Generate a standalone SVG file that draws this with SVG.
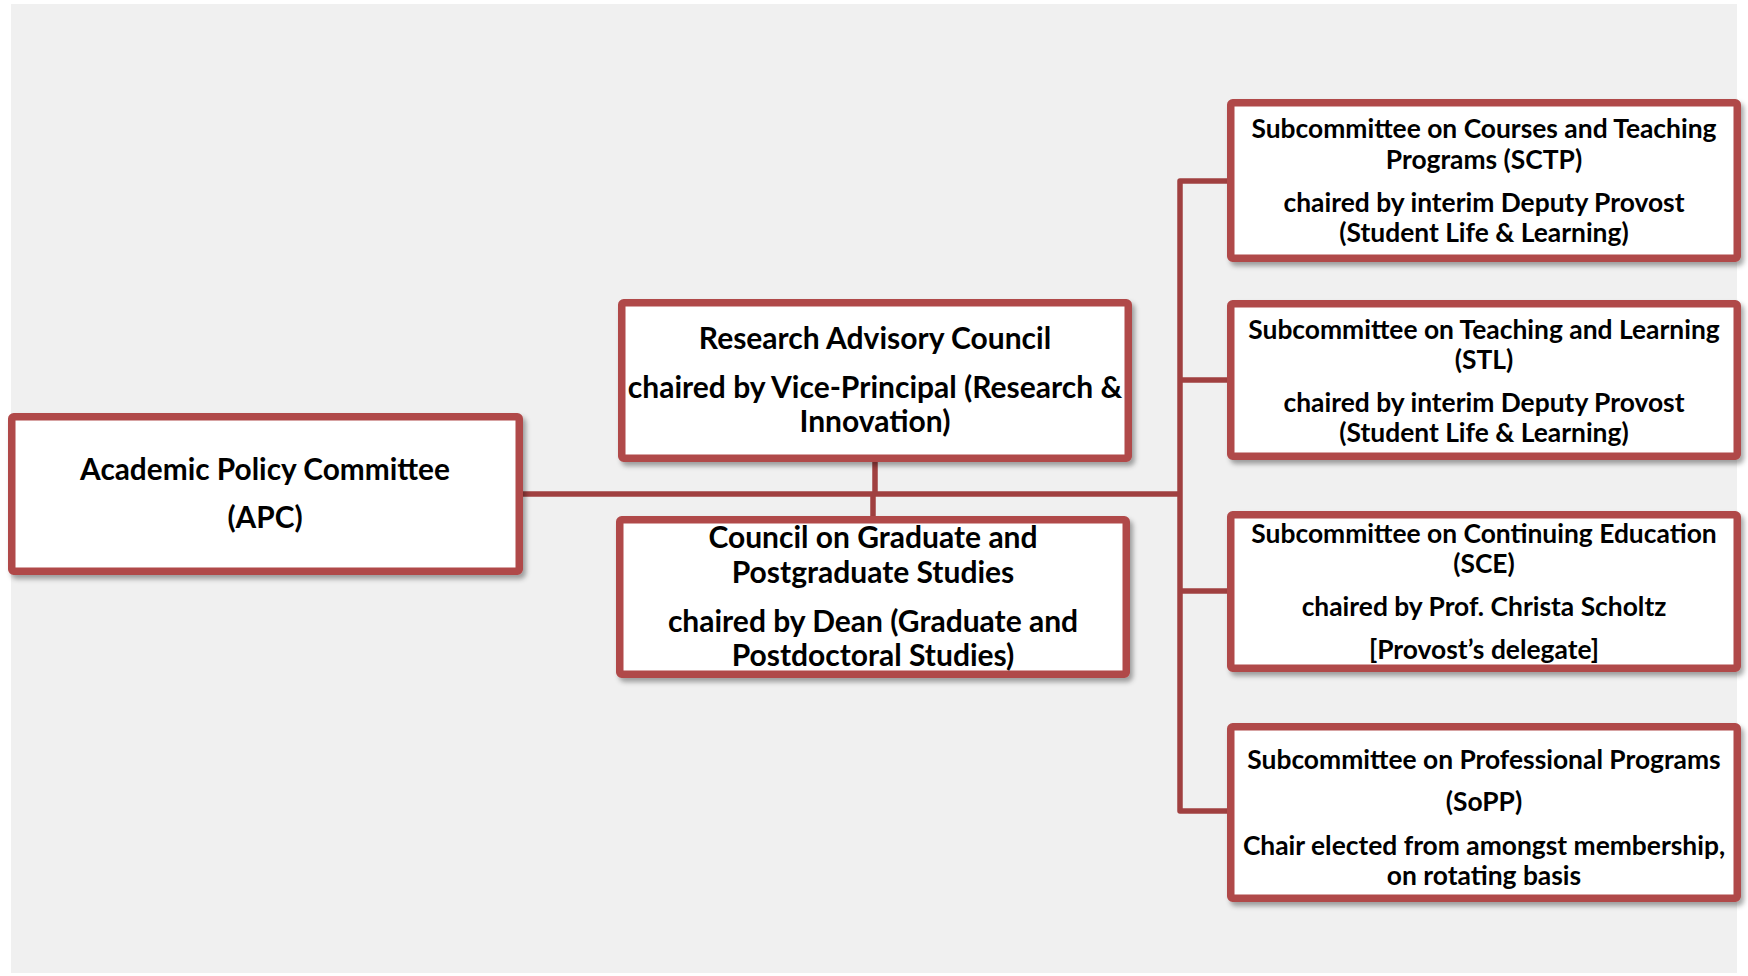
<svg xmlns="http://www.w3.org/2000/svg" width="1748" height="976" viewBox="0 0 1748 976">
<defs>
<filter id="sh" x="-5%" y="-5%" width="112%" height="120%">
<feDropShadow dx="3" dy="4" stdDeviation="2.5" flood-color="#000" flood-opacity="0.35"/>
</filter>
<style>
.box{fill:#ffffff;stroke:#b04848;stroke-width:7.5;filter:url(#sh)}
.ln{fill:none;stroke:#a04040;stroke-width:5.5;stroke-linejoin:round}
text{font-family:Lato,"Open Sans","Liberation Sans",sans-serif;font-weight:700;fill:#000;text-anchor:middle}
.t1{font-size:29.8px}
.t2{font-size:30px}
.t3{font-size:26.4px}
</style>
</defs>
<rect x="0" y="0" width="1748" height="976" fill="#ffffff"/>
<rect x="11" y="4" width="1726" height="969" fill="#f0f0f0"/>
<g id="connectors">
<path class="ln" d="M523 494 H1180"/>
<path class="ln" d="M875 462 V494"/>
<path class="ln" d="M873 494 V516"/>
<path class="ln" d="M1227 181 H1180 V811 H1227"/>
<path class="ln" d="M1180 380 H1227"/>
<path class="ln" d="M1180 591 H1227"/>
</g>
<g id="apc">
<rect class="box" x="11.75" y="416.75" width="507.5" height="154.5" rx="2"/>
<text class="t1" x="265" y="480">Academic Policy Committee</text>
<text class="t1" x="265" y="527.5">(APC)</text>
</g>
<g id="rac">
<rect class="box" x="621.75" y="302.75" width="506.5" height="155.5" rx="2"/>
<text class="t2" x="875" y="348.5">Research Advisory Council</text>
<text class="t2" x="875" y="397.5">chaired by Vice-Principal (Research &amp;</text>
<text class="t2" x="875" y="431.5">Innovation)</text>
</g>
<g id="cgps">
<rect class="box" x="619.75" y="519.75" width="506.5" height="154.5" rx="2"/>
<text class="t2" x="873" y="547.5">Council on Graduate and</text>
<text class="t2" x="873" y="582.5">Postgraduate Studies</text>
<text class="t2" x="873" y="631.5">chaired by Dean (Graduate and</text>
<text class="t2" x="873" y="665.5">Postdoctoral Studies)</text>
</g>
<g id="sctp">
<rect class="box" x="1230.75" y="102.75" width="506.5" height="155.5" rx="2"/>
<text class="t3" x="1484" y="137.5">Subcommittee on Courses and Teaching</text>
<text class="t3" x="1484" y="168.5">Programs (SCTP)</text>
<text class="t3" x="1484" y="211.5">chaired by interim Deputy Provost</text>
<text class="t3" x="1484" y="241.5">(Student Life &amp; Learning)</text>
</g>
<g id="stl">
<rect class="box" x="1230.75" y="303.75" width="506.5" height="152.5" rx="2"/>
<text class="t3" x="1484" y="338.5">Subcommittee on Teaching and Learning</text>
<text class="t3" x="1484" y="368.5">(STL)</text>
<text class="t3" x="1484" y="411.5">chaired by interim Deputy Provost</text>
<text class="t3" x="1484" y="441.5">(Student Life &amp; Learning)</text>
</g>
<g id="sce">
<rect class="box" x="1230.75" y="514.75" width="506.5" height="153.5" rx="2"/>
<text class="t3" x="1484" y="542.5">Subcommittee on Continuing Education</text>
<text class="t3" x="1484" y="572.5">(SCE)</text>
<text class="t3" x="1484" y="615.5">chaired by Prof. Christa Scholtz</text>
<text class="t3" x="1484" y="658.5">[Provost’s delegate]</text>
</g>
<g id="sopp">
<rect class="box" x="1230.75" y="726.75" width="506.5" height="171.5" rx="2"/>
<text class="t3" x="1484" y="768.5">Subcommittee on Professional Programs</text>
<text class="t3" x="1484" y="810.5">(SoPP)</text>
<text class="t3" x="1484" y="854.5">Chair elected from amongst membership,</text>
<text class="t3" x="1484" y="884.5">on rotating basis</text>
</g>
</svg>
